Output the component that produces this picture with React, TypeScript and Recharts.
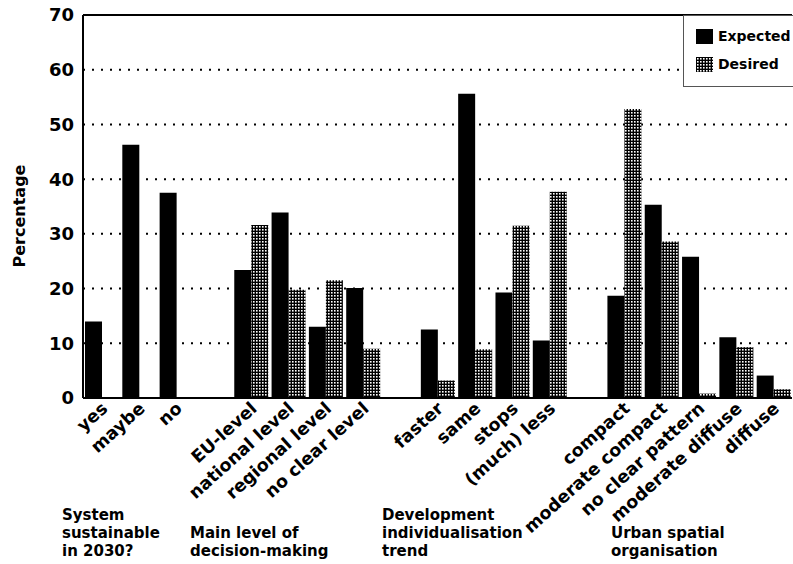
import React from 'react';
import {
  BarChart,
  Bar,
  XAxis,
  YAxis,
  CartesianGrid,
  ReferenceLine,
} from 'recharts';

// answer categories, with empty slots between the four question groups
const categories = [
  'yes', 'maybe', 'no', '',
  'EU-level', 'national level', 'regional level', 'no clear level', ' ',
  'faster', 'same', 'stops', '(much) less', '  ',
  'compact', 'moderate compact', 'no clear pattern', 'moderate diffuse', 'diffuse',
];

const expected = [
  14.0, 46.3, 37.5, null,
  23.4, 33.9, 13.0, 20.1, null,
  12.5, 55.6, 19.3, 10.5, null,
  18.7, 35.3, 25.8, 11.1, 4.1,
];

const desired = [
  null, null, null, null,
  31.6, 19.8, 21.5, 9.0, null,
  3.2, 8.9, 31.5, 37.7, null,
  52.8, 28.6, 0.8, 9.3, 1.6,
];

const yTicks = [0, 10, 20, 30, 40, 50, 60, 70];

const groupLabels = [
  { lines: ['System', 'sustainable', 'in 2030?'], left: 62, top: 506 },
  { lines: ['Main level of', 'decision-making'], left: 190, top: 524 },
  { lines: ['Development', 'individualisation', 'trend'], left: 382, top: 506 },
  { lines: ['Urban spatial', 'organisation'], left: 611, top: 524 },
];

const FONT = '"DejaVu Sans", sans-serif';

const data = categories.map((name, i) => ({
  name,
  expected: expected[i],
  desired: desired[i],
}));

function RotatedTick(props: any) {
  const { x, y, payload } = props;
  const px = x + 7;
  const py = y + 4;
  return (
    <text
      x={px}
      y={py}
      transform={`rotate(-42, ${px}, ${py})`}
      textAnchor="end"
      fontFamily={FONT}
      fontWeight="bold"
      fontSize={17.5}
      fill="#000"
    >
      {payload.value}
    </text>
  );
}

function HatchDef({ id }: { id: string }) {
  return (
    <pattern id={id} width={3} height={3} patternUnits="userSpaceOnUse">
      <rect width={3} height={3} fill="#000" />
      <rect x={1} y={1} width={1.6} height={1.6} fill="#fff" />
    </pattern>
  );
}

function LegendBox() {
  const items = [
    { label: 'Expected', fill: '#000' },
    { label: 'Desired', fill: 'url(#hatchLegend)' },
  ];
  return (
    <div
      style={{
        position: 'absolute',
        left: 683,
        top: 15,
        width: 115,
        height: 72,
        borderLeft: '1px solid #555',
        borderTop: '1px solid #555',
        borderBottom: '1px solid #555',
        background: '#fff',
        boxSizing: 'border-box',
      }}
    >
      <svg width={20} height={0} style={{ position: 'absolute' }}>
        <defs>
          <HatchDef id="hatchLegend" />
        </defs>
      </svg>
      {items.map((it, i) => (
        <div
          key={it.label}
          style={{
            position: 'absolute',
            left: 12,
            top: 12 + i * 28,
            display: 'flex',
            alignItems: 'center',
            fontFamily: FONT,
            fontWeight: 'bold',
            fontSize: 14,
            whiteSpace: 'nowrap',
          }}
        >
          <svg width={17} height={15} style={{ marginRight: 5 }}>
            <rect width={17} height={15} fill={it.fill} />
          </svg>
          {it.label}
        </div>
      ))}
    </div>
  );
}

function YTitle() {
  return (
    <text
      x={25}
      y={216}
      transform="rotate(-90, 25, 216)"
      textAnchor="middle"
      fontFamily={FONT}
      fontWeight="bold"
      fontSize={16}
      fill="#000"
    >
      Percentage
    </text>
  );
}

export default function App() {
  return (
    <div style={{ position: 'absolute', left: 0, top: 0, width: 793, height: 564, background: '#fff', overflow: 'hidden' }}>
      <BarChart
        width={793}
        height={564}
        data={data}
        margin={{ top: 15, right: 1, left: 0, bottom: 0 }}
        barCategoryGap={2}
        barGap={0}
      >
        <defs>
          <HatchDef id="hatch" />
        </defs>
        <CartesianGrid
          vertical={false}
          stroke="#000"
          strokeWidth={2}
          strokeDasharray="2 7"
        />
        <XAxis
          dataKey="name"
          interval={0}
          height={166}
          tickLine={false}
          axisLine={{ stroke: '#000', strokeWidth: 2 }}
          tick={<RotatedTick />}
        />
        <YAxis
          width={83}
          domain={[0, 70]}
          ticks={yTicks}
          interval={0}
          tickLine={false}
          tickMargin={3}
          axisLine={{ stroke: '#000', strokeWidth: 2 }}
          tick={{ fill: '#000', fontFamily: FONT, fontWeight: 'bold', fontSize: 18 }}
        />
        <ReferenceLine y={70} stroke="#000" strokeWidth={2} />
        <Bar dataKey="expected" name="Expected" fill="#000" isAnimationActive={false} />
        <Bar dataKey="desired" name="Desired" fill="url(#hatch)" isAnimationActive={false} />
        <YTitle />
      </BarChart>
      <LegendBox />
      {groupLabels.map((g) => (
        <div
          key={g.lines[0]}
          style={{
            position: 'absolute',
            left: g.left,
            top: g.top,
            fontFamily: FONT,
            fontWeight: 'bold',
            fontSize: 15,
            lineHeight: '18px',
            whiteSpace: 'nowrap',
          }}
        >
          {g.lines.map((l) => (
            <div key={l}>{l}</div>
          ))}
        </div>
      ))}
    </div>
  );
}
